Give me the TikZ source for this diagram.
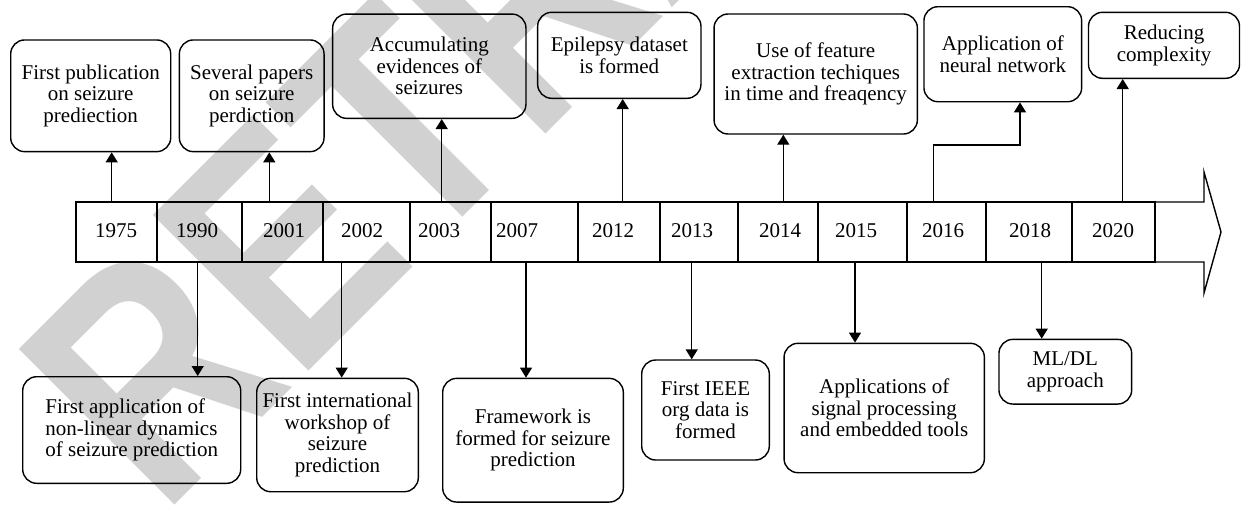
\documentclass[tikz,border=0pt]{standalone}
\usepackage{fontspec}
\usepackage{graphicx}
\setmainfont{Liberation Serif}
\newfontfamily\wmfont{Liberation Sans}
\usetikzlibrary{arrows.meta}

\begin{document}
\begin{tikzpicture}[x=1pt,y=-1pt,
  every node/.style={font=\fontsize{21}{21.5}\selectfont},
  event/.style={draw, line width=1.4pt, rounded corners=14pt, align=center, inner sep=2pt},
  cell/.style={draw, line width=1.4pt, minimum height=60pt, inner sep=0pt},
  year/.style={inner sep=0pt},
  link/.style={line width=1.4pt, -{Triangle[length=10pt,width=12pt]}},
  mark text/.style={font=\wmfont\bfseries\fontsize{320}{320}\selectfont, text=black!18, inner sep=0pt},
]
\useasboundingbox (0,0) rectangle (1241,504);
\clip (0,0) rectangle (1241,504);

% watermark behind everything
\node[mark text, rotate=45, anchor=base west] (wm) at (162,518) {\scalebox{0.82}[1]{RETRACTED}};

% timeline bar with arrow head
\draw[line width=1.4pt, line join=miter]
  (76,202) -- (1204,202) -- (1204,172) -- (1221,232) -- (1204,293)
  -- (1204,262) -- (76,262) -- cycle;

% year cells
\foreach \name/\l/\r in {c1975/76/157, c1990/157/242, c2001/242/323, c2002/323/410,
  c2003/410/491, c2007/491/578, c2012/578/660, c2013/660/738, c2014/738/818,
  c2015/818/907, c2016/907/986, c2018/986/1072, c2020/1072/1155}
  \node[cell, minimum width={(\r-\l)*1pt}] (\name) at ({(\l+\r)/2},232) {};

% year labels
\foreach \yr/\x in {1975/116, 1990/197, 2001/284, 2002/362, 2003/439, 2007/517,
  2012/613, 2013/692, 2014/780, 2015/856, 2016/943, 2018/1030, 2020/1113}
  \node[year] (y\yr) at (\x,231) {\yr};

% events above the timeline
\node[event, minimum width=160pt, minimum height=111.7pt] (b1) at (90.7,95.8)
  {First publication\\on seizure\\prediection};
\node[event, minimum width=144.7pt, minimum height=111.7pt] (b2) at (251.7,95.8)
  {Several papers\\on seizure\\perdiction};
\node[event, minimum width=193.3pt, minimum height=104.3pt] (b3) at (429.3,66.2)
  {Accumulating\\evidences of\\seizures};
\node[event, minimum width=163.3pt, minimum height=86pt] (b4) at (619.3,55.3)
  {Epilepsy dataset\\is formed};
\node[event, minimum width=203.3pt, minimum height=120pt] (b5) at (815.7,74)
  {Use of feature\\extraction techiques\\in time and freaqency};
\node[event, minimum width=157.7pt, minimum height=95pt] (b6) at (1002.8,54.2)
  {Application of\\neural network};
\node[event, minimum width=151pt, minimum height=66pt] (b7) at (1164,45.3)
  {Reducing\\complexity};

% events below the timeline
\node[event, align=left, minimum width=218pt, minimum height=106.6pt] (b8) at (131.7,430)
  {First application of\\non-linear dynamics\\of seizure prediction};
\node[event, minimum width=161.6pt, minimum height=113.4pt] (b9) at (337.5,435)
  {First international\\workshop of\\seizure\\prediction};
\node[event, minimum width=180.6pt, minimum height=123.7pt] (b10) at (533,440.2)
  {Framework is\\formed for seizure\\prediction};
\node[event, minimum width=127.6pt, minimum height=100pt] (b11) at (705.5,410)
  {First IEEE\\org data is\\formed};
\node[event, minimum width=200.3pt, minimum height=129.4pt] (b12) at (884.2,408)
  {Applications of\\signal processing\\and embedded tools};
\node[event, minimum width=132.7pt, minimum height=64.7pt] (b13) at (1065.3,371.7)
  {ML/DL\\approach};

% connectors going up
\draw[link] (c1975.north -| 111.7,0) -- (b1.south -| 111.7,0);
\draw[link] (c2001.north -| 269.3,0) -- (b2.south -| 269.3,0);
\draw[link] (c2003.north -| 441.7,0) -- (b3.south -| 441.7,0);
\draw[link] (c2012.north -| 622.7,0) -- (b4.south -| 622.7,0);
\draw[link] (c2014.north -| 783.3,0) -- (b5.south -| 783.3,0);
\draw[link] (c2016.north -| 933.3,0) -- (933.3,145) -- (1020,145) -- (b6.south -| 1020,0);
\draw[link] (c2020.north -| 1122.7,0) -- (b7.south -| 1122.7,0);

% connectors going down
\draw[link] (c1990.south -| 197.7,0) -- (b8.north -| 197.7,0);
\draw[link] (c2002.south -| 341.7,0) -- (b9.north -| 341.7,0);
\draw[link] (c2007.south -| 526,0) -- (b10.north -| 526,0);
\draw[link] (c2013.south -| 691.7,0) -- (b11.north -| 691.7,0);
\draw[link] (c2015.south -| 855,0) -- (b12.north -| 855,0);
\draw[link] (c2018.south -| 1041.7,0) -- (b13.north -| 1041.7,0);
\end{tikzpicture}
\end{document}
